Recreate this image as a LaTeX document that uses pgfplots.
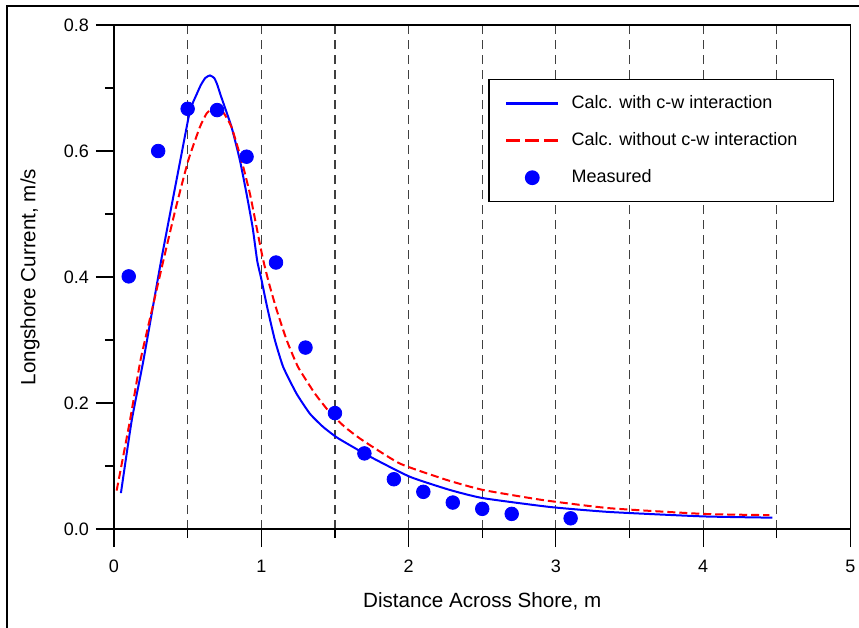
\documentclass[border=0pt]{standalone}
\usepackage{fontspec}
\setmainfont{Liberation Sans}
\usepackage{pgfplots}
\pgfplotsset{compat=1.18}

\pgfplotstableread{
x y
0.047 0.057
0.12 0.172
0.20 0.268
0.32 0.426
0.45 0.585
0.516 0.664
0.561 0.690
0.59 0.705
0.62 0.716
0.651 0.720
0.68 0.716
0.70 0.706
0.725 0.688
0.798 0.638
0.855 0.585
0.90 0.532
0.941 0.479
0.972 0.426
1.00 0.397
1.04 0.352
1.092 0.300
1.149 0.257
1.239 0.215
1.33 0.183
1.42 0.162
1.522 0.144
1.737 0.115
2.008 0.083
2.28 0.062
2.505 0.049
2.958 0.035
3.365 0.027
4.0 0.020
4.47 0.018
}\withcw

\pgfplotstableread{
x y
0.018 0.061
0.109 0.173
0.18 0.268
0.26 0.350
0.335 0.426
0.42 0.510
0.504 0.585
0.583 0.638
0.63 0.660
0.69 0.671
0.74 0.662
0.798 0.638
0.866 0.585
0.923 0.532
0.968 0.479
1.01 0.430
1.05 0.392
1.104 0.348
1.172 0.300
1.25 0.257
1.364 0.215
1.465 0.185
1.567 0.162
1.68 0.142
1.94 0.104
2.257 0.078
2.505 0.062
2.91 0.046
3.365 0.033
4.0 0.024
4.45 0.022
}\withoutcw

\pgfplotstableread{
x y
0.1 0.401
0.3 0.600
0.5 0.667
0.7 0.665
0.9 0.591
1.1 0.423
1.3 0.288
1.5 0.184
1.7 0.120
1.9 0.079
2.1 0.059
2.3 0.042
2.5 0.032
2.7 0.024
3.1 0.017
}\measured

\begin{document}
\begin{tikzpicture}
\useasboundingbox (0pt,0pt) rectangle (429.5pt,-314pt);
\draw[line width=0.7pt] (3.5pt,-320pt) -- (3.5pt,-3pt) -- (435pt,-3pt);
\begin{axis}[
  at={(57pt,-264.5pt)}, anchor=south west,
  scale only axis, width=368.25pt, height=252pt,
  xmin=0, xmax=5, ymin=0, ymax=0.8,
  xtick={0,1,2,3,4,5},
  ytick={0,0.2,0.4,0.6,0.8},
  minor x tick num=1,
  minor y tick num=1,
  tick pos=left,
  tick align=outside,
  major tick length=9pt,
  minor tick length=4.5pt,
  every tick/.style={black, line width=0.6pt},
  xmajorgrids, xminorgrids,
  grid style={black!75, line width=0.6pt, dash pattern=on 4.5pt off 3pt},
  minor grid style={black!75, line width=0.6pt, dash pattern=on 4.5pt off 3pt},
  axis line style={black, line width=0.7pt},
  /pgf/number format/assume math mode=true,
  yticklabel style={/pgf/number format/.cd, fixed, fixed zerofill, precision=1},
  ticklabel style={font=\fontsize{9}{10}\selectfont},
  xticklabel style={yshift=-3pt},
  xlabel={Distance Across Shore, m},
  ylabel={Longshore Current, m/s},
  label style={font=\fontsize{10.3}{12}\selectfont},
  xlabel style={at={(axis description cs:0.5,-0.143)}, anchor=center},
  ylabel style={at={(axis description cs:-0.114,0.5)}, anchor=center, rotate=0},
  legend style={at={(0.9776,0.8929)}, anchor=north east, draw=black, line width=0.6pt,
    font=\fontsize{9}{10}\selectfont, legend cell align=left,
    inner xsep=8pt, inner ysep=6pt, row sep=6.5pt,
    /tikz/every odd column/.append style={column sep=4pt}},
]
\addplot[blue, line width=1pt, no markers, smooth, tension=0.3,
  legend image code/.code={\draw[blue, line width=1.35pt] (0pt,0pt) -- (26pt,0pt);}]
  table {\withcw};
\addlegendentry{Calc. with c-w interaction}
\addplot[red, line width=1pt, no markers, smooth, tension=0.3, dash pattern=on 4pt off 2pt,
  legend image code/.code={\draw[red, line width=1.35pt, dash pattern=on 7pt off 2.5pt] (0pt,0pt) -- (26pt,0pt);}]
  table {\withoutcw};
\addlegendentry{Calc. without c-w interaction\kern8pt}
\addplot[only marks, mark=*, mark size=3.4pt, color=blue, mark options={fill=blue, draw=blue},
  legend image code/.code={\draw[blue, fill=blue] (13pt,0pt) circle (3.4pt);\path (0pt,0pt) (26pt,0pt);}]
  table {\measured};
\addlegendentry{Measured}
\end{axis}
\end{tikzpicture}
\end{document}
